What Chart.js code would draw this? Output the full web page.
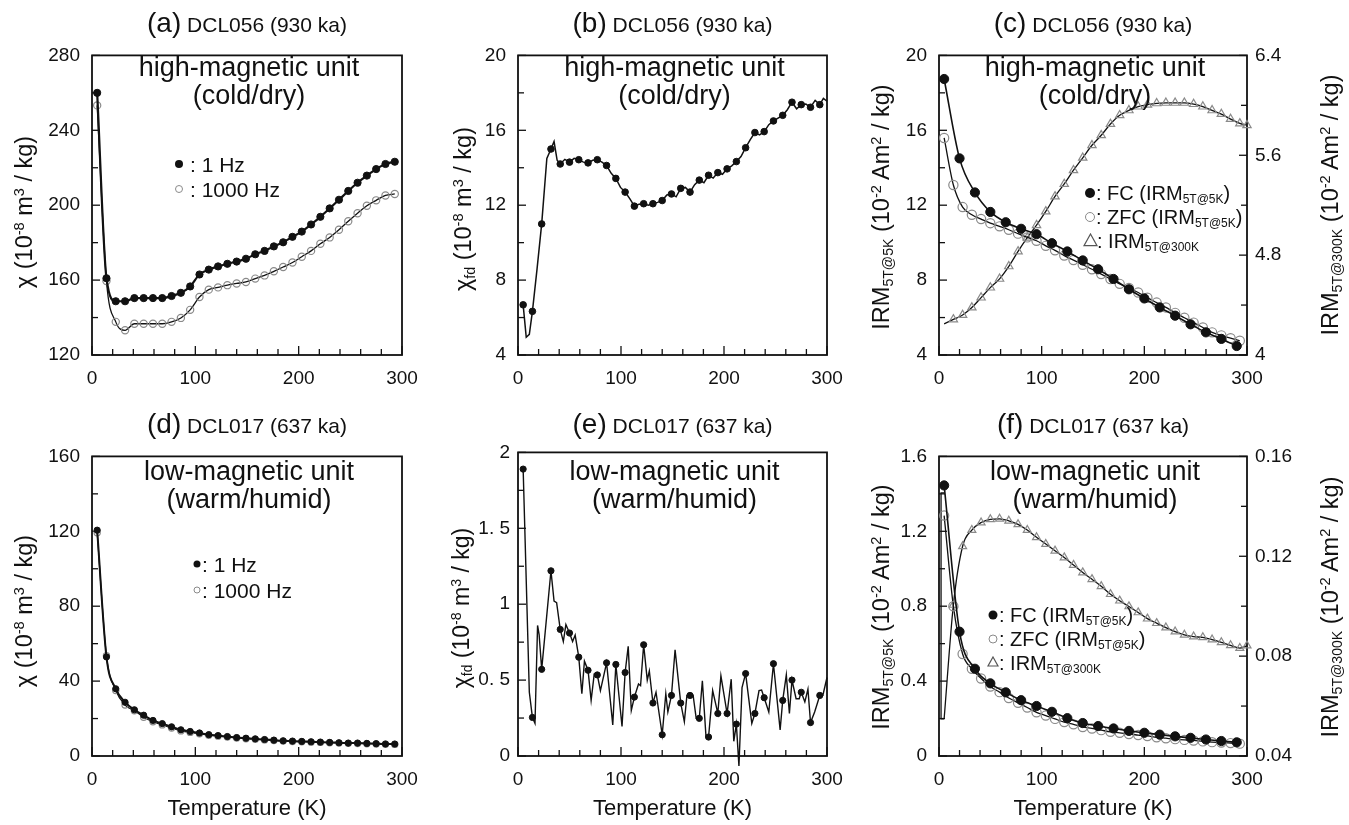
<!DOCTYPE html>
<html>
<head>
<meta charset="utf-8">
<title>Low-temperature magnetic properties, DCL056 and DCL017</title>
<script src="https://cdn.jsdelivr.net/npm/chart.js@4.4.1/dist/chart.umd.min.js"></script>
<style>
  body { margin: 0; background: #fff; width: 1349px; height: 825px; position: relative; overflow: hidden;
         font-family: "Liberation Sans", Arial, Helvetica, sans-serif; color: #111; }
  canvas { position: absolute; }
  .t { position: absolute; white-space: nowrap; line-height: 1; }
  .t sub { font-size: 0.6em; vertical-align: -0.25em; line-height: 0; }
  .t sup { font-size: 0.62em; vertical-align: 0.55em; line-height: 0; }
  .mk { position: absolute; box-sizing: border-box; border-radius: 50%; transform: translate(-50%, -50%); }
</style>
</head>
<body>
<script>
// ---- data ----
// temperature grids (K)
const tGrid9 = [5, 14, 23, 32, 41, 50, 59, 68, 77, 86, 95, 104, 113, 122, 131, 140, 149, 158, 167, 176, 185, 194, 203, 212, 221, 230, 239, 248, 257, 266, 275, 284, 293];
const tGrid15 = [5, 20, 35, 50, 65, 80, 95, 110, 125, 140, 155, 170, 185, 200, 215, 230, 245, 260, 275, 290];
const tIrm = [5, 14, 23, 32, 41, 50, 59, 68, 77, 86, 95, 104, 113, 122, 131, 140, 149, 158, 167, 176, 185, 194, 203, 212, 221, 230, 239, 248, 257, 266, 275, 284, 293, 300];

// (a) DCL056 chi
const aChi1Hz = [260, 161, 148.7, 148.7, 150.4, 150.4, 150.4, 150.4, 151.5, 153.2, 156.6, 163, 165.6, 167.3, 168.7, 169.9, 171.4, 173.8, 175.6, 178, 180.2, 183.1, 185.9, 189.7, 193.8, 198.3, 202.9, 207.6, 212, 215.8, 219.3, 222, 223.2];
const aChi1000Hz = [253.3, 159.5, 137.7, 133.2, 136.7, 136.7, 136.7, 136.7, 137.7, 139.8, 144.1, 151, 154.9, 156.1, 157.3, 158.2, 159, 160.8, 162.5, 164.7, 167, 169.4, 172.5, 175.6, 179.4, 182.8, 186.9, 191.4, 195.7, 199.7, 202.6, 205.2, 206];

// (b) DCL056 chi_fd
const bChiFd = [6.68, 6.33, 11.0, 15.0, 14.2, 14.3, 14.43, 14.26, 14.43, 14.12, 13.43, 12.7, 11.95, 12.08, 12.08, 12.25, 12.6, 12.9, 12.7, 13.34, 13.6, 13.74, 13.94, 14.33, 15.07, 15.88, 15.93, 16.5, 16.8, 17.5, 17.37, 17.23, 17.37];
const bLineT = [5, 8, 11, 14, 18.5, 23, 28, 32, 35, 38, 41, 45.5, 50, 54.5, 59, 63.5, 68, 72.5, 77, 81.5, 86, 90.5, 95, 99.5, 104, 108.5, 113, 117.5, 122, 126.5, 131, 135.5, 140, 144.5, 149, 153.5, 158, 162.5, 167, 171.5, 176, 180.5, 185, 189.5, 194, 198.5, 203, 207.5, 212, 216.5, 221, 225.5, 230, 234.5, 239, 243.5, 248, 252.5, 257, 261.5, 266, 270.5, 275, 279.5, 284, 288.5, 293, 296.5, 300];
const bLineV = [6.68, 4.95, 5.1, 6.33, 8.6, 11.0, 14.5, 15.0, 15.4, 14.4, 14.2, 14.45, 14.3, 14.5, 14.43, 14.3, 14.26, 14.4, 14.43, 14.3, 14.12, 13.7, 13.43, 12.95, 12.7, 12.35, 11.95, 12.05, 12.08, 12.0, 12.08, 12.15, 12.25, 12.55, 12.6, 12.45, 12.9, 12.95, 12.7, 13.1, 13.34, 13.2, 13.6, 13.45, 13.74, 13.65, 13.94, 14.1, 14.33, 14.6, 15.07, 15.5, 15.88, 15.75, 15.93, 16.3, 16.5, 16.65, 16.8, 17.1, 17.5, 17.15, 17.37, 17.4, 17.23, 17.6, 17.37, 17.7, 17.55];

// (c) DCL056 IRM
const cFC = [18.74, 14.5, 12.68, 11.64, 11.09, 10.74, 10.45, 9.97, 9.53, 9.05, 8.58, 8.06, 7.51, 7.02, 6.54, 6.1, 5.64, 5.21, 4.86, 4.48];
const cZFC = [15.59, 13.08, 11.9, 11.49, 11.26, 11.04, 10.87, 10.69, 10.48, 10.28, 10.1, 9.83, 9.59, 9.31, 9.07, 8.82, 8.58, 8.32, 8.06, 7.8, 7.58, 7.34, 7.06, 6.8, 6.54, 6.25, 5.99, 5.73, 5.47, 5.21, 5.05, 4.9, 4.76];
const cIRM300 = [4.25, 4.285, 4.32, 4.38, 4.46, 4.54, 4.61, 4.71, 4.83, 4.94, 5.04, 5.15, 5.27, 5.37, 5.48, 5.58, 5.68, 5.76, 5.85, 5.92, 5.96, 5.99, 6.005, 6.016, 6.02, 6.02, 6.02, 6.01, 5.99, 5.96, 5.93, 5.89, 5.855, 5.84];

// (d) DCL017 chi
const dChi1Hz = [120.6, 52.9, 35.9, 28.7, 24.7, 21.8, 19.0, 17.3, 15.6, 14.0, 13.1, 12.3, 11.4, 10.9, 10.4, 9.85, 9.5, 9.16, 8.8, 8.47, 8.12, 7.95, 7.78, 7.6, 7.43, 7.26, 7.08, 6.9, 6.9, 6.74, 6.57, 6.4, 6.4];
const dChi1000Hz = [119.2, 53.5, 35, 27.2, 24.2, 20.7, 18.3, 16.6, 14.9, 13.4, 12.6, 11.9, 11.1, 10.6, 10.1, 9.6, 9.2, 8.9, 8.6, 8.25, 7.95, 7.75, 7.6, 7.4, 7.25, 7.1, 6.9, 6.75, 6.7, 6.55, 6.4, 6.25, 6.2];

// (e) DCL017 chi_fd
const eChiFd = [1.89, 0.254, 0.571, 1.22, 0.834, 0.81, 0.651, 0.565, 0.534, 0.614, 0.603, 0.55, 0.388, 0.733, 0.349, 0.14, 0.399, 0.349, 0.399, 0.248, 0.125, 0.28, 0.28, 0.21, 0.543, 0.28, 0.384, 0.608, 0.366, 0.5, 0.42, 0.22, 0.399];
const eLineT = [5, 11, 14, 16.5, 19, 20.5, 23, 32, 35, 37.5, 41, 44, 46.5, 50, 53, 55.5, 59, 62, 64.5, 68, 71, 74, 77, 80, 86, 92, 95, 101, 104, 107, 110, 113, 117, 119, 122, 125.5, 127.5, 131, 134, 140, 143.5, 145.5, 149, 152.5, 158, 161.5, 164, 167, 170, 173, 176, 179, 182.5, 185, 189, 194, 197, 203, 207, 209.5, 212, 214.5, 217.5, 221, 227, 230, 234, 236.5, 239, 243.5, 248, 254.5, 257, 260.5, 263.5, 266, 270, 273, 275, 278.5, 281.5, 284, 288, 293, 296, 300];
const eLineV = [1.89, 0.42, 0.254, 0.215, 0.86, 0.80, 0.571, 1.22, 1.02, 1.01, 0.834, 0.754, 0.866, 0.81, 0.754, 0.797, 0.651, 0.41, 0.625, 0.565, 0.366, 0.539, 0.534, 0.431, 0.614, 0.205, 0.603, 0.194, 0.55, 0.722, 0.30, 0.388, 0.474, 0.463, 0.733, 0.5, 0.56, 0.349, 0.42, 0.14, 0.41, 0.29, 0.399, 0.70, 0.349, 0.226, 0.399, 0.399, 0.4, 0.248, 0.248, 0.496, 0.13, 0.125, 0.431, 0.28, 0.528, 0.28, 0.506, 0.097, 0.21, -0.065, 0.45, 0.543, 0.215, 0.28, 0.431, 0.435, 0.384, 0.29, 0.608, 0.172, 0.366, 0.534, 0.28, 0.5, 0.377, 0.377, 0.42, 0.356, 0.44, 0.22, 0.29, 0.399, 0.4, 0.517];

// (f) DCL017 IRM
const fFC = [1.445, 0.664, 0.466, 0.388, 0.34, 0.298, 0.267, 0.236, 0.202, 0.176, 0.16, 0.147, 0.134, 0.124, 0.114, 0.105, 0.097, 0.088, 0.08, 0.073];
const fZFC = [1.284, 0.80, 0.545, 0.466, 0.414, 0.371, 0.341, 0.31, 0.284, 0.259, 0.233, 0.216, 0.198, 0.181, 0.169, 0.155, 0.147, 0.138, 0.129, 0.124, 0.117, 0.112, 0.107, 0.1, 0.095, 0.09, 0.086, 0.083, 0.078, 0.074, 0.072, 0.069, 0.066];
const fIRM300 = [0.0549, 0.1005, 0.124, 0.1305, 0.1335, 0.1348, 0.135, 0.1342, 0.1328, 0.1305, 0.1276, 0.1249, 0.1222, 0.1195, 0.1165, 0.1135, 0.1108, 0.108, 0.1048, 0.1022, 0.0999, 0.0975, 0.095, 0.0932, 0.0914, 0.0898, 0.0885, 0.0878, 0.0875, 0.0866, 0.0855, 0.0843, 0.0832, 0.0842];
const fIrmStartT = [5, 2, 2, 5];
const fIrmStartV = [0.1454, 0.1454, 0.0549, 0.0549];

// axis ticks
const xMajor = [0, 100, 200, 300];
const xMinor = [20, 40, 60, 80, 120, 140, 160, 180, 220, 240, 260, 280];
const aYMajor = [120, 160, 200, 240, 280], aYMinor = [140, 180, 220, 260];
const bYMajor = [4, 8, 12, 16, 20], bYMinor = [6, 10, 14, 18];
const cYMajor = [4, 8, 12, 16, 20], cYMinor = [6, 10, 14, 18];
const cY2Major = [4, 4.8, 5.6, 6.4], cY2Minor = [4.4, 5.2, 6.0];
const dYMajor = [0, 40, 80, 120, 160], dYMinor = [20, 60, 100, 140];
const eYMajor = [0, 0.5, 1, 1.5, 2], eYMinor = [0.25, 0.75, 1.25, 1.75];
const eYLabels = ['0', '0. 5', '1', '1. 5', '2'];
const fYMajor = [0, 0.4, 0.8, 1.2, 1.6], fYMinor = [0.2, 0.6, 1.0, 1.4];
const fY2Major = [0.04, 0.08, 0.12, 0.16], fY2Minor = [0.06, 0.10, 0.14];

// ---- drawing ----
const FONT = '"Liberation Sans", Arial, Helvetica, sans-serif';
const INK = '#111';
const GREY = '#8a8a8a';

function xy(xs, ys) { return xs.map((x, i) => ({ x: x, y: ys[i] })); }

// box round the plot and inward tick marks
function frameTicks(marks) {
  return {
    id: 'frameTicks',
    beforeDatasetsDraw(chart) {
      const ctx = chart.ctx, a = chart.chartArea;
      ctx.save();
      ctx.strokeStyle = INK;
      ctx.lineWidth = 1.8;
      ctx.strokeRect(a.left, a.top, a.right - a.left, a.bottom - a.top);
      ctx.lineWidth = 1.3;
      marks.forEach(m => {
        const s = chart.scales[m.scale];
        m.values.forEach(v => {
          const p = s.getPixelForValue(v);
          ctx.beginPath();
          if (m.side === 'bottom') { ctx.moveTo(p, a.bottom); ctx.lineTo(p, a.bottom - m.len); }
          else if (m.side === 'left') { ctx.moveTo(a.left, p); ctx.lineTo(a.left + m.len, p); }
          else { ctx.moveTo(a.right, p); ctx.lineTo(a.right - m.len, p); }
          ctx.stroke();
        });
      });
      ctx.restore();
    }
  };
}

function axis(position, min, max, major, labels, fit, pad) {
  const horiz = position === 'bottom';
  return {
    type: 'linear', position: position, min: min, max: max,
    afterBuildTicks: s => { s.ticks = major.map(v => ({ value: v })); },
    afterFit: s => { if (horiz) s.height = fit; else s.width = fit; },
    ticks: {
      autoSkip: false, maxRotation: 0,
      padding: pad,
      color: INK, font: { family: FONT, size: 19 },
      callback: (v, i) => labels[i]
    },
    grid: { display: false, drawTicks: false },
    border: { display: false }
  };
}

const PAD_L = 60, PAD_R = 62, PAD_T = 14, PAD_B = 40;

function panel(box, datasets, y, y2) {
  const cv = document.createElement('canvas');
  cv.width = box[2] + PAD_L + PAD_R;
  cv.height = box[3] + PAD_T + PAD_B;
  cv.style.left = (box[0] - PAD_L) + 'px';
  cv.style.top = (box[1] - PAD_T) + 'px';
  document.body.appendChild(cv);

  const scales = {
    x: axis('bottom', 0, 300, xMajor, xMajor.map(String), PAD_B, 12),
    y: axis('left', y.min, y.max, y.major, y.labels || y.major.map(String), PAD_L, y.pad || 12)
  };
  const marks = [
    { scale: 'x', side: 'bottom', values: xMajor, len: 9 },
    { scale: 'x', side: 'bottom', values: xMinor, len: 6 },
    { scale: 'y', side: 'left', values: y.major, len: 8 },
    { scale: 'y', side: 'left', values: y.minor, len: 6 }
  ];
  if (y2) {
    scales.y2 = axis('right', y2.min, y2.max, y2.major, y2.major.map(String), PAD_R, 8);
    marks.push({ scale: 'y2', side: 'right', values: y2.major, len: 8 });
    marks.push({ scale: 'y2', side: 'right', values: y2.minor, len: 6 });
  }
  return new Chart(cv, {
    type: 'scatter',
    data: { datasets: datasets },
    options: {
      responsive: false, animation: false, events: [],
      layout: { padding: { left: 0, top: PAD_T, right: y2 ? 0 : PAD_R, bottom: 0 } },
      plugins: { legend: { display: false }, tooltip: { enabled: false } },
      scales: scales
    },
    plugins: [frameTicks(marks)]
  });
}

function filled(data, r, lw, extra) {
  return Object.assign({
    data: data, showLine: lw > 0, borderColor: INK, borderWidth: lw,
    cubicInterpolationMode: 'monotone', clip: false,
    pointRadius: r, pointBackgroundColor: INK, pointBorderColor: INK, pointBorderWidth: 1
  }, extra || {});
}
function open(data, r, lw, extra) {
  return Object.assign({
    data: data, showLine: lw > 0, borderColor: INK, borderWidth: lw,
    cubicInterpolationMode: 'monotone', clip: false,
    pointRadius: r, pointBackgroundColor: 'rgba(0,0,0,0)', pointBorderColor: GREY, pointBorderWidth: 1.2
  }, extra || {});
}

// plot boxes [left, top, width, height] in page pixels
const boxA = [92, 46, 310, 309], boxB = [518, 46, 309, 309], boxC = [939, 46, 308, 309];
const boxD = [92, 447, 310, 309], boxE = [518, 447, 309, 309], boxF = [939, 447, 308, 309];

panel(boxA, [
  filled(xy(tGrid9, aChi1Hz), 3.6, 2.2),
  open(xy(tGrid9, aChi1000Hz), 3.6, 1.3)
], { min: 120, max: 280, major: aYMajor, minor: aYMinor });

panel(boxB, [
  filled(xy(tGrid9, bChiFd), 3.3, 0),
  { data: xy(bLineT, bLineV), showLine: true, borderColor: INK, borderWidth: 1.5, tension: 0, pointRadius: 0, clip: false }
], { min: 4, max: 20, major: bYMajor, minor: bYMinor });

panel(boxC, [
  filled(xy(tGrid15, cFC), 4.6, 1.6),
  open(xy(tGrid9, cZFC), 4.6, 1.3),
  open(xy(tIrm, cIRM300), 4.8, 1.3, {
    yAxisID: 'y2', pointStyle: 'triangle',
    pointRadius: c => (c.dataIndex === 0 ? 0 : 4.8)
  })
], { min: 4, max: 20, major: cYMajor, minor: cYMinor },
   { min: 4, max: 6.4, major: cY2Major, minor: cY2Minor });

panel(boxD, [
  filled(xy(tGrid9, dChi1Hz), 3.1, 2.0),
  open(xy(tGrid9, dChi1000Hz), 3.1, 1.2)
], { min: 0, max: 160, major: dYMajor, minor: dYMinor });

panel(boxE, [
  filled(xy(tGrid9, eChiFd), 3.1, 0),
  { data: xy(eLineT, eLineV), showLine: true, borderColor: INK, borderWidth: 1.4, tension: 0, pointRadius: 0, clip: false }
], { min: 0, max: 2, major: eYMajor, minor: eYMinor, labels: eYLabels, pad: 8 });

panel(boxF, [
  filled(xy(tGrid15, fFC), 4.6, 1.6),
  open(xy(tGrid9, fZFC), 4.6, 1.3),
  open(xy(tIrm, fIRM300), 4.6, 1.3, {
    yAxisID: 'y2', pointStyle: 'triangle',
    pointRadius: c => (c.dataIndex === 0 ? 0 : 4.6)
  }),
  { data: xy(fIrmStartT, fIrmStartV), yAxisID: 'y2', showLine: true, borderColor: INK, borderWidth: 1.3, tension: 0, pointRadius: 0, clip: false }
], { min: 0, max: 1.6, major: fYMajor, minor: fYMinor },
   { min: 0.04, max: 0.16, major: fY2Major, minor: fY2Minor });

// ---- text ----
function put(html, x, y, size, mode) {
  const d = document.createElement('div');
  d.className = 't';
  d.innerHTML = html;
  d.style.left = x + 'px';
  d.style.top = y + 'px';
  d.style.fontSize = size + 'px';
  if (mode === 'rot') d.style.transform = 'translate(-50%,-50%) rotate(-90deg)';
  else if (mode === 'left') d.style.transform = 'translate(0,-50%)';
  else d.style.transform = 'translate(-50%,-50%)';
  document.body.appendChild(d);
}
function marker(kind, x, y, size) {
  if (kind === 'tri') {
    const s = document.createElementNS('http://www.w3.org/2000/svg', 'svg');
    s.setAttribute('width', size + 2); s.setAttribute('height', size + 2);
    s.style.position = 'absolute';
    s.style.left = (x - size / 2 - 1) + 'px';
    s.style.top = (y - size / 2 - 1) + 'px';
    const h = size * 0.9;
    s.innerHTML = '<polygon points="' + (size / 2 + 1) + ',1 ' + (size + 1) + ',' + (h + 1) + ' 1,' + (h + 1) +
      '" fill="none" stroke="#555" stroke-width="1.2"/>';
    document.body.appendChild(s);
    return;
  }
  const m = document.createElement('div');
  m.className = 'mk';
  m.style.left = x + 'px'; m.style.top = y + 'px';
  m.style.width = size + 'px'; m.style.height = size + 'px';
  if (kind === 'dot') m.style.background = INK;
  else m.style.border = '1.2px solid ' + GREY;
  document.body.appendChild(m);
}

const mid = b => b[0] + b[2] / 2;
const sample056 = 'DCL056 (930 ka)', sample017 = 'DCL017 (637 ka)';
[['(a)', boxA, sample056], ['(b)', boxB, sample056], ['(c)', boxC, sample056],
 ['(d)', boxD, sample017], ['(e)', boxE, sample017], ['(f)', boxF, sample017]].forEach(p => {
  put('<span style="font-size:28px">' + p[0] + '</span> ' + p[2], mid(p[1]), p[1][1] - 23, 21);
});

[boxA, boxB, boxC].forEach(b => {
  put('high-magnetic unit', mid(b) + 2, b[1] + 21, 27);
  put('(cold/dry)', mid(b) + 2, b[1] + 49, 27);
});
[boxD, boxE, boxF].forEach(b => {
  put('low-magnetic unit', mid(b) + 2, b[1] + 24, 27);
  put('(warm/humid)', mid(b) + 2, b[1] + 52, 27);
});

[boxD, boxE, boxF].forEach(b => put('Temperature (K)', mid(b), 808, 22));

const chiTitle = '&chi; (10<sup>-8</sup> m<sup>3</sup> / kg)';
const chiFdTitle = '&chi;<sub>fd</sub> (10<sup>-8</sup> m<sup>3</sup> / kg)';
const irm5Title = 'IRM<sub>5T@5K</sub> (10<sup>-2</sup> Am<sup>2</sup> / kg)';
const irm300Title = 'IRM<sub>5T@300K</sub> (10<sup>-2</sup> Am<sup>2</sup> / kg)';
put(chiTitle, 25, 212, 23.5, 'rot');
put(chiFdTitle, 464, 209, 23.5, 'rot');
put(irm5Title, 882, 207, 23.5, 'rot');
put(irm300Title, 1331, 205, 23.5, 'rot');
put(chiTitle, 25, 611, 23.5, 'rot');
put(chiFdTitle, 461, 608, 23, 'rot');
put(irm5Title, 882, 607, 23.5, 'rot');
put(irm300Title, 1331, 607, 23.5, 'rot');

// legends
marker('dot', 179, 164, 8); put(': 1 Hz', 190, 164, 21, 'left');
marker('open', 179, 189, 8); put(': 1000 Hz', 190, 189, 21, 'left');
marker('dot', 197, 564, 7); put(': 1 Hz', 202, 564, 21, 'left');
marker('open', 197, 590, 7); put(': 1000 Hz', 202, 590, 21, 'left');

marker('dot', 1090, 193, 10); put(': FC (IRM<sub>5T@5K</sub>)', 1096, 193, 20, 'left');
marker('open', 1090, 217, 10); put(': ZFC (IRM<sub>5T@5K</sub>)', 1096, 217, 20, 'left');
marker('tri', 1090, 240, 13); put(': IRM<sub>5T@300K</sub>', 1097, 241, 20, 'left');
marker('dot', 993, 615, 9); put(': FC (IRM<sub>5T@5K</sub>)', 999, 615, 20, 'left');
marker('open', 993, 639, 9); put(': ZFC (IRM<sub>5T@5K</sub>)', 999, 639, 20, 'left');
marker('tri', 993, 662, 10); put(': IRM<sub>5T@300K</sub>', 999, 663, 20, 'left');
</script>
</body>
</html>
